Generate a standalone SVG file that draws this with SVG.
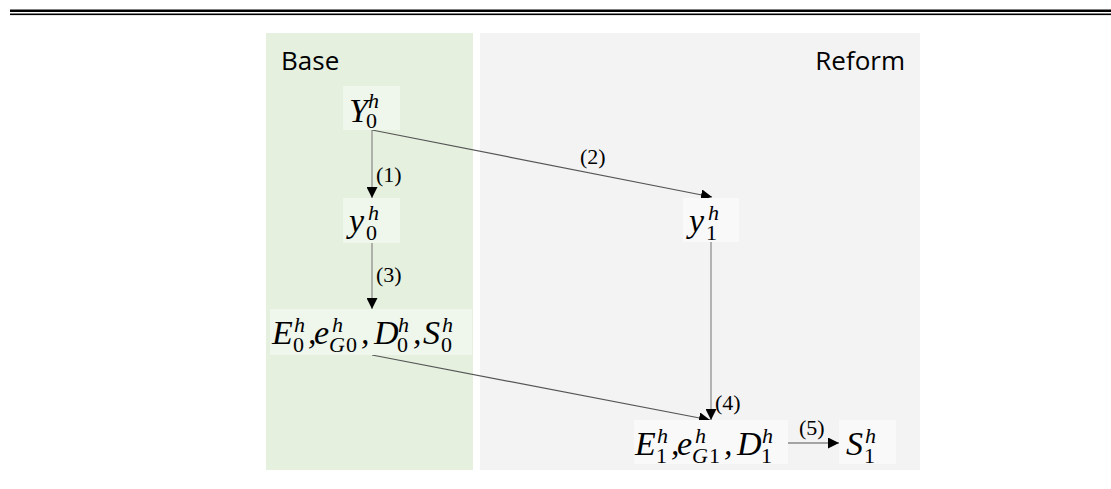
<svg xmlns="http://www.w3.org/2000/svg" width="1111" height="489" viewBox="0 0 1111 489">
<style>
.panel-title{font-family:"Open Sans","Liberation Sans",sans-serif;font-size:26px;fill:#000}
.m{font-family:"Liberation Serif",serif;font-size:34px;font-style:italic;fill:#000}
.s{font-family:"Liberation Serif",serif;font-size:22px;fill:#000}
.si{font-family:"Liberation Serif",serif;font-size:22px;font-style:italic;fill:#000}
.lbl{font-family:"Liberation Serif",serif;font-size:22px;fill:#000}
.boxg{fill:#eff6eb}
.boxw{fill:#f9f9f9}
.edge{stroke:#555;stroke-width:1.2;fill:none;marker-end:url(#ah)}
.edgev{stroke:#888;stroke-width:1.2;fill:none;marker-end:url(#ah)}
</style>
<defs>
<marker id="ah" markerUnits="userSpaceOnUse" markerWidth="11" markerHeight="11" refX="11" refY="5.5" orient="auto">
<path d="M0,0 L11,5.5 L0,11 z" fill="#000"/>
</marker>
</defs>
<rect width="1111" height="489" fill="#fff"/>
<g id="rules">
<rect x="10" y="9.5" width="1101" height="2.5" fill="#000"/>
<rect x="10" y="13.5" width="1101" height="1.6" fill="#000"/>
</g>
<g id="panel-base">
<rect x="266" y="33" width="207" height="437" fill="#e5f0df"/>
<text class="panel-title" x="281" y="69.5">Base</text>
</g>
<g id="panel-reform">
<rect x="480" y="33" width="440" height="437" fill="#f3f3f3"/>
<text class="panel-title" x="905" y="69.5" text-anchor="end">Reform</text>
</g>
<g id="connectors">
<line class="edgev" x1="372" y1="130" x2="372" y2="198"/>
<line class="edgev" x1="372" y1="243" x2="372" y2="309"/>
<line class="edge" x1="372" y1="130" x2="712" y2="197"/>
<line class="edgev" x1="711" y1="242" x2="711" y2="420"/>
<line class="edge" x1="372" y1="355" x2="710" y2="420"/>
<line class="edge" x1="788" y1="443" x2="839" y2="443"/>
<text class="lbl" x="376" y="182">(1)</text>
<text class="lbl" x="376" y="282">(3)</text>
<text class="lbl" x="580" y="164">(2)</text>
<text class="lbl" x="715" y="410">(4)</text>
<text class="lbl" x="799" y="435">(5)</text>
</g>
<g id="node-Y0">
<rect class="boxg" x="343" y="86" width="57" height="44"/>
<text><tspan class="m" x="349" y="122">Y</tspan><tspan class="s" x="366" y="128">0</tspan><tspan class="si" x="368" y="108">h</tspan></text>
</g>
<g id="node-y0">
<rect class="boxg" x="343" y="198" width="57" height="45"/>
<text><tspan class="m" x="349" y="232">y</tspan><tspan class="s" x="366" y="240">0</tspan><tspan class="si" x="368" y="220">h</tspan></text>
</g>
<g id="node-E0">
<rect class="boxg" x="270" y="309" width="202" height="46"/>
<text><tspan class="m" x="272" y="344">E</tspan><tspan class="s" x="293" y="352">0</tspan><tspan class="si" x="294" y="332">h</tspan><tspan class="m" x="308" y="344">,</tspan><tspan class="m" x="314" y="344">e</tspan><tspan class="si" x="329" y="352">G</tspan><tspan class="s" x="346" y="352">0</tspan><tspan class="si" x="332" y="332">h</tspan><tspan class="m" x="361" y="344">,</tspan><tspan class="m" x="374" y="344">D</tspan><tspan class="s" x="397" y="352">0</tspan><tspan class="si" x="398" y="332">h</tspan><tspan class="m" x="413" y="344">,</tspan><tspan class="m" x="423" y="344">S</tspan><tspan class="s" x="441" y="352">0</tspan><tspan class="si" x="442" y="332">h</tspan></text>
</g>
<g id="node-y1">
<rect class="boxw" x="683" y="198" width="56" height="44"/>
<text><tspan class="m" x="689" y="232">y</tspan><tspan class="s" x="706" y="240">1</tspan><tspan class="si" x="708" y="220">h</tspan></text>
</g>
<g id="node-E1">
<rect class="boxw" x="634" y="420" width="154" height="44"/>
<text><tspan class="m" x="635" y="455">E</tspan><tspan class="s" x="656" y="463">1</tspan><tspan class="si" x="657" y="443">h</tspan><tspan class="m" x="671" y="455">,</tspan><tspan class="m" x="677" y="455">e</tspan><tspan class="si" x="692" y="463">G</tspan><tspan class="s" x="709" y="463">1</tspan><tspan class="si" x="695" y="443">h</tspan><tspan class="m" x="724" y="455">,</tspan><tspan class="m" x="737" y="455">D</tspan><tspan class="s" x="761" y="463">1</tspan><tspan class="si" x="762" y="443">h</tspan></text>
</g>
<g id="node-S1">
<rect class="boxw" x="839" y="420" width="57" height="44"/>
<text><tspan class="m" x="846" y="455">S</tspan><tspan class="s" x="864" y="463">1</tspan><tspan class="si" x="865" y="443">h</tspan></text>
</g>
</svg>
